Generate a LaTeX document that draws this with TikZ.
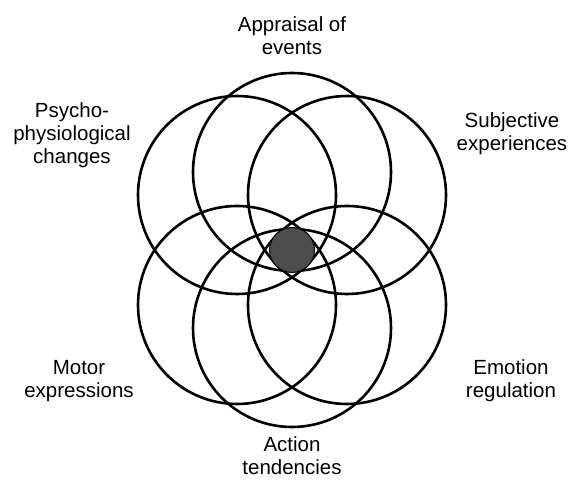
\documentclass[tikz,border=0pt]{standalone}
\usepackage{fontspec}
\setmainfont{Liberation Sans}
\usetikzlibrary{positioning}
\definecolor{coregray}{HTML}{4D4D4D}
\tikzset {
  % one of the six overlapping components
  ring/.style = {
    draw = black,
    circle,
    line width = 2.6pt,
    minimum size = 198pt,
    inner sep = 0
  },
  % the shared centre of all components
  core/.style = {
    draw = black,
    fill = coregray,
    circle,
    line width = 1pt,
    minimum size = 45pt,
    inner sep = 0
  },
  % component name
  lbl/.style = {
    align = center,
    inner sep = 0,
    font = \fontsize{20.5}{23}\selectfont
  }
}

\begin{document}
\begin{tikzpicture}[x=1pt, y=-1pt]
    \useasboundingbox (0,0) rectangle (571,481);

    \node[ring] (appraisal) at (292,172) {};
    \node[ring] (physio) at (237,195) {};
    \node[ring] (subjective) at (347,195) {};
    \node[ring] (motor) at (237,305) {};
    \node[ring] (regulation) at (347,305) {};
    \node[ring] (action) at (292,328) {};
    \node[core] (core) at (292,250) {};

    \node[lbl] (appraisal-lbl) at (292,36) {Appraisal of\\events};
    \node[lbl] (physio-lbl) at (72,135) {Psycho-\\physiological\\changes};
    \node[lbl] (subjective-lbl) at (512,134) {Subjective\\experiences};
    \node[lbl] (motor-lbl) at (79,381) {Motor\\expressions};
    \node[lbl] (regulation-lbl) at (511,381) {Emotion\\regulation};
    \node[lbl] (action-lbl) at (292,456) {Action\\tendencies};
  \end{tikzpicture}
\end{document}
